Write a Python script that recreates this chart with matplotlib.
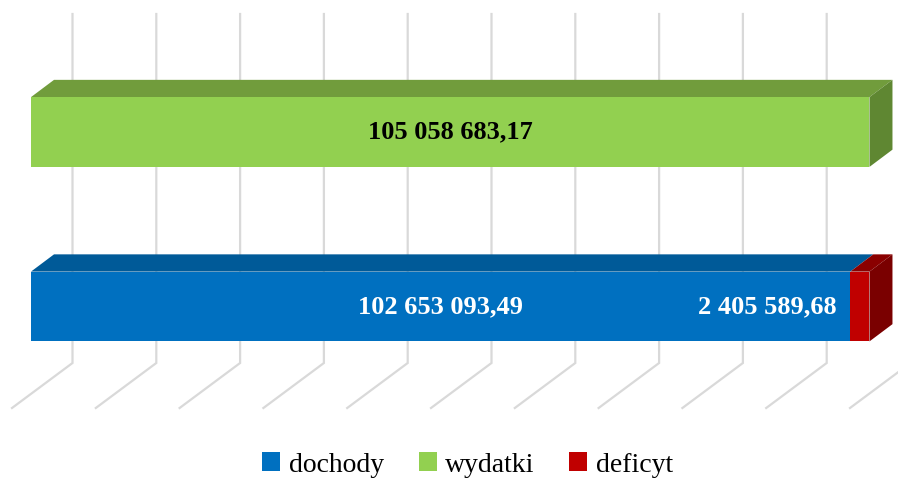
import numpy as np
import matplotlib.pyplot as plt
from matplotlib.patches import Polygon, Patch
from matplotlib.transforms import IdentityTransform, offset_copy

# Data
rows = [0, 1]  # 0 = dochody + deficyt, 1 = wydatki
dochody = [102653093.49, 0]
wydatki = [0, 105058683.17]
deficyt = [2405589.68, 0]
series_names = ['dochody', 'wydatki', 'deficyt']

axis_max = 1.05e8
n_steps = 10

# colours: front, top, side
c_blue = ('#0070C0', '#005A98', '#004A80')
c_green = ('#92D050', '#719C3C', '#5F8732')
c_red = ('#C00000', '#8A0000', '#7A0000')
grid_col = '#D9D9D9'
font = 'Liberation Serif'

fig = plt.figure(figsize=(8.98, 4.79), dpi=100)
ax = fig.add_axes([31 / 898, 85.25 / 479, 838 / 898, 349 / 479])
ax.set_xlim(0, axis_max)
ax.set_ylim(-0.5, 1.5)
ax.axis('off')

bar_h = 0.4
depth = np.array([23, 17.25])       # bar depth (pixels)
back = np.array([41.5, 30.75])      # back wall offset from bar front plane
front = np.array([-19, -14.25])     # floor front edge offset


def pt(x, y, off=(0, 0)):
    return ax.transData.transform((x, y)) + np.asarray(off)


# gridlines: back wall verticals + floor diagonals
for t in np.linspace(0, axis_max, n_steps + 1):
    p = np.array([pt(t, 1.5, back), pt(t, -0.5, back), pt(t, -0.5, front)])
    ax.plot(p[:, 0], p[:, 1], color=grid_col, lw=1.6, transform=IdentityTransform(),
            clip_on=False, zorder=1, solid_joinstyle='miter')


def box(x0, x1, y, cols, side=False):
    a, b = pt(x0, y - bar_h / 2), pt(x1, y - bar_h / 2)
    c, d = pt(x1, y + bar_h / 2), pt(x0, y + bar_h / 2)
    faces = [([d, c, c + depth, d + depth], cols[1])]
    if side:
        faces.append(([b, c, c + depth, b + depth], cols[2]))
    faces.append(([a, b, c, d], cols[0]))
    for verts, col in faces:
        ax.add_patch(Polygon(verts, closed=True, facecolor=col, edgecolor='none',
                             transform=IdentityTransform(), clip_on=False, zorder=3))


for i, r in enumerate(rows):
    left = 0
    segs = [(dochody[i], c_blue), (wydatki[i], c_green), (deficyt[i], c_red)]
    segs = [s for s in segs if s[0] > 0]
    for k, (v, cols) in enumerate(segs):
        box(left, left + v, r, cols, side=(k == len(segs) - 1))
        left += v


def fmt(v):
    return f'{v:,.2f}'.replace(',', ' ').replace('.', ',')


ax.text(wydatki[1] / 2, 1, fmt(wydatki[1]), ha='center', va='center', color='black',
        fontsize=19, fontweight='bold', family=font, zorder=5)
ax.text(dochody[0] / 2, 0, fmt(dochody[0]), ha='center', va='center', color='white',
        fontsize=19, fontweight='bold', family=font, zorder=5)
ax.text(dochody[0], 0, fmt(deficyt[0]), ha='right', va='center', color='white',
        fontsize=19, fontweight='bold', family=font, zorder=5,
        transform=offset_copy(ax.transData, fig=fig, x=-14, y=0, units='dots'))

handles = [Patch(facecolor=c_blue[0]), Patch(facecolor=c_green[0]), Patch(facecolor=c_red[0])]
fig.legend(handles, series_names, loc='center', bbox_to_anchor=(467.5 / 898, 14 / 479),
           ncol=3, frameon=False, handlelength=0.65, handleheight=0.65, handletextpad=0.3,
           columnspacing=1.25, prop={'family': font, 'size': 20})

fig.savefig('out.png', dpi=100)
